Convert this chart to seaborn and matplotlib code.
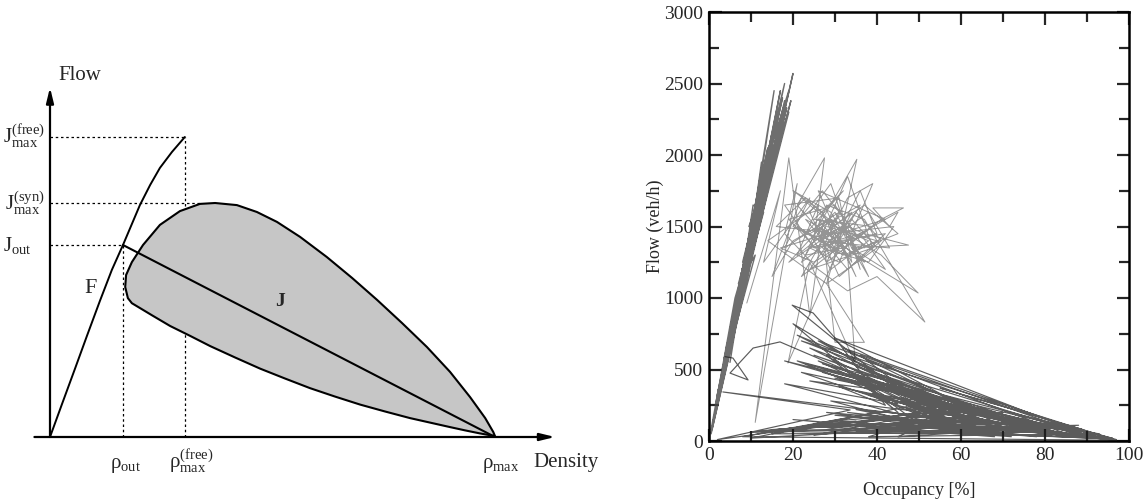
import numpy as np
import pandas as pd
import matplotlib
matplotlib.use("Agg")
import matplotlib.pyplot as plt
import seaborn as sns

sns.set_style("white")
plt.rcParams['font.family'] = ['Liberation Serif', 'DejaVu Serif']
plt.rcParams['mathtext.fontset'] = 'custom'
plt.rcParams['mathtext.rm'] = 'Liberation Serif'
plt.rcParams['mathtext.it'] = 'Liberation Serif:italic'
plt.rcParams['mathtext.bf'] = 'Liberation Serif:bold'

# ---------------- Left panel: schematic fundamental diagram ----------------
# density units: rho_max = 100 ; flow units: J_max(free) = 100
rho_out, rho_free, rho_max = 16.4, 30.3, 100.0
J_free, J_syn, J_out = 100.0, 78.0, 64.0

F_rho = [0, 2.7, 5.6, 8.3, 11.2, 13.9, 16.4, 18.4, 20.2, 22.5, 24.7, 27.4, 30.3]
F_flow = [0, 11, 22.7, 33.7, 45.3, 55.7, 64, 71, 77.3, 84, 89.7, 95, 100]

J_rho = [rho_out, rho_max]
J_flow = [J_out, 0]

blob_rho = [17.5, 16.9, 17.1, 18.4, 20.9, 24.7, 29.2, 33.7, 37.1, 42.0, 46.5, 51.0,
            56.2, 62.2, 67.9, 73.5, 79.1, 84.7, 89.9, 94.4, 97.8, 99.6, 100.0,
            96.6, 93.3, 89.9, 85.4, 80.9, 75.3, 69.7, 64.0, 58.4, 52.8, 47.2, 41.6,
            36.0, 31.5, 27.0, 23.0, 20.2, 18.4, 17.5]
blob_flow = [46.3, 50.0, 54.0, 58.3, 64.0, 70.7, 75.3, 77.7, 78.0, 77.3, 75.0, 71.7,
             66.7, 60.0, 53.0, 45.7, 38.0, 30.0, 21.7, 13.3, 6.3, 1.7, 0.3,
             1.2, 2.2, 3.3, 4.8, 6.3, 8.5, 10.8, 13.5, 16.3, 19.5, 22.8, 26.5,
             30.3, 33.7, 37.0, 40.5, 43.0, 44.6, 46.3]

# ---------------- Right panel: measured flow vs occupancy ----------------
free_occ = [0.5, 10, 3, 13, 6, 15, 8, 17, 4, 12, 9, 18, 11, 14, 5, 16, 7, 20, 13, 19.5,
            10, 15.5, 2, 11.5, 6.5, 14.5, 3.5, 9.5, 1, 12.5, 8.5, 16.5, 12, 17.5, 4.5,
            13.5, 7.5, 11, 1.5, 14, 5.5, 18.5, 9, 15, 2.5, 12, 0.8,
            14, 6, 16.5, 9.5, 12.5, 3, 15, 7, 17, 10, 13, 5, 18, 11, 8.5, 19, 12, 4,
            14.5, 9, 16, 6, 13.5, 2, 11, 7.5, 15, 10.5, 17.5, 3.5, 12, 8, 14, 1.5, 10,
            5, 13, 0.5,
            6.2, 16, 3, 19, 9.5, 12, 12.5, 8, 15.5, 5, 10.5, 13, 4, 17, 7, 11, 2, 14, 0.5]
free_flow = [60, 1350, 380, 1700, 800, 2000, 1050, 2250, 520, 1580, 1250, 2380, 1400,
             1900, 700, 2100, 900, 2570, 1650, 2380, 1300, 1950, 280, 1500, 830, 1850,
             450, 1200, 140, 1620, 1150, 2200, 1550, 2300, 600, 1800, 950, 1450, 200,
             1820, 760, 2330, 1180, 1960, 330, 1530, 90,
             2050, 900, 2300, 1380, 1750, 450, 2150, 1000, 2450, 1400, 1900, 720, 2500,
             1650, 1200, 2450, 1800, 620, 2000, 1350, 2250, 850, 1850, 320, 1550, 1150,
             2050, 1450, 2400, 560, 1650, 1250, 1950, 250, 1500, 780, 1780, 80,
             1000, 2000, 480, 2300, 1500, 1500, 1950, 1000, 2450, 550, 1650, 1600, 640,
             2150, 1100, 1300, 330, 1750, 50]

syn_occ = [9, 17, 13, 24, 18, 31, 22, 35, 27, 20, 33, 26, 38, 29, 24, 36, 30, 21, 27.5,
           25, 32, 28, 40, 34, 19, 30, 37, 26, 35.2, 31, 42, 33, 23, 29, 44, 38, 27, 33,
           39, 31, 24, 36, 42, 34, 47.5, 37, 29, 20, 15, 22, 30, 41, 49.8, 35, 28, 17,
           25, 33, 45, 43, 39, 46.3, 41, 32, 23, 28, 37, 51.4, 40, 33, 26, 18, 21, 11,
           19, 24, 27, 30, 37, 28,
           14, 26, 21, 34, 28, 39, 25, 32, 23, 37, 30, 19, 27, 35, 41, 31, 24, 29, 36,
           33, 26, 43, 38, 22, 28, 34, 31, 18, 25, 40, 36, 29, 21, 32, 45, 37, 27, 33,
           39, 24, 30, 35, 26, 42, 31, 16, 23, 34, 38, 29, 20, 27, 31, 18.8, 24, 34.8,
           33, 40, 28]
syn_flow = [965, 1750, 1250, 1700, 1350, 1600, 1150, 1450, 1750, 1500, 1300, 1550, 1400,
            1200, 1450, 1650, 1350, 1650, 1980, 1400, 1500, 1100, 1350, 1550, 1250, 1600,
            1250, 1500, 1970, 1400, 1450, 1200, 1550, 1450, 1500, 1250, 1350, 1700, 1800,
            1250, 1350, 1450, 1200, 1350, 1370, 1450, 1550, 1400, 1150, 1700, 1500, 1300,
            1035, 1300, 1450, 1350, 1250, 1400, 1600, 1500, 1630, 1630, 1550, 1350, 1300,
            1650, 1550, 832, 1150, 1050, 1200, 1450, 1800, 130, 1980, 880, 1500, 690, 690,
            1100,
            1400, 1650, 1300, 1600, 1250, 1500, 1550, 1750, 1450, 1350, 1650, 1550, 1300,
            1600, 1400, 1150, 1600, 1800, 1200, 1500, 1400, 1350, 1600, 1250, 1550, 1250,
            1700, 1650, 1350, 1450, 1750, 1350, 1500, 1300, 1450, 1650, 1450, 1850, 1350,
            1200, 1450, 1150, 1750, 1550, 1450, 1500, 1700, 1400, 1150, 1600, 1750, 1600,
            1350, 545, 1250, 545, 1300, 1400, 1500]

jam_occ = [3.8, 5.7, 9.3, 5.0, 10.5, 16.9, 60, 21, 77, 24, 55, 20, 45, 28, 90, 30, 70,
           26, 62, 35, 96, 22, 52, 19.8, 24.8, 30, 42, 31, 66, 38, 80, 27, 97, 55, 89, 40,
           58, 18, 45, 34, 75, 44, 63, 29, 50, 37, 85, 43, 68, 33, 57, 47, 92, 3.3, 33.6,
           2, 35, 10, 60, 30, 75, 15, 50, 28, 88, 40, 70, 25, 95, 45, 20, 65, 35, 80, 50,
           12, 55, 38, 93, 60, 30, 72, 42, 97,
           22, 78, 25, 65, 32, 94, 18, 57, 27, 83, 35, 70, 24, 48, 36, 91, 21, 60, 41, 73,
           30, 86, 26, 64, 39, 55, 23, 78, 46, 97,
           8, 40, 20, 65, 35, 85, 48, 25, 70, 42, 92, 55, 15, 62, 38, 78, 30, 58, 45, 88,
           52, 10, 47, 82, 36, 68, 28, 96]
jam_flow = [590, 580, 427, 475, 650, 693, 150, 740, 60, 650, 200, 820, 200, 600, 40, 720,
            100, 560, 60, 450, 20, 480, 180, 950, 895, 720, 250, 380, 120, 320, 50, 540,
            10, 370, 80, 300, 90, 400, 260, 460, 100, 340, 160, 280, 120, 400, 30, 290,
            60, 200, 120, 230, 20, 343, 217, 10, 140, 60, 110, 180, 60, 50, 200, 80, 30,
            160, 120, 100, 15, 80, 150, 40, 220, 100, 50, 70, 180, 30, 50, 200, 120, 30,
            160, 5,
            700, 70, 600, 180, 650, 15, 560, 230, 480, 60, 520, 140, 420, 330, 600, 25,
            560, 100, 380, 150, 440, 40, 700, 90, 330, 260, 540, 120, 290, 5,
            30, 200, 90, 150, 60, 90, 170, 40, 200, 110, 40, 140, 80, 60, 180, 30, 140,
            210, 30, 110, 90, 20, 240, 70, 100, 30, 200, 20]

# ---------------- figure ----------------
W, H = 1146, 503
fig = plt.figure(figsize=(W / 100, H / 100), dpi=100)

def px_axes(x0, y0, x1, y1):
    # x0,y0 top-left pixel, x1,y1 bottom-right pixel
    return fig.add_axes([x0 / W, (H - y1) / H, (x1 - x0) / W, (y1 - y0) / H])

# left axes: pixel (30..575, 60..470) ; data x=(px-50)/4.45, y=(437-py)/3
ax1 = px_axes(30, 60, 575, 470)
ax1.set_xlim((30 - 50) / 4.45, (575 - 50) / 4.45)
ax1.set_ylim((437 - 470) / 3, (437 - 60) / 3)
ax1.axis('off')

ax1.fill(blob_rho, blob_flow, facecolor='#c6c6c6', edgecolor='black', lw=1.5,
         joinstyle='round', zorder=2)
sns.lineplot(x=F_rho, y=F_flow, sort=False, estimator=None, color='black', lw=1.4, ax=ax1, zorder=3)
sns.lineplot(x=J_rho, y=J_flow, sort=False, estimator=None, color='black', lw=1.5, ax=ax1, zorder=3)

dot = dict(color='black', lw=0.9, ls=(0, (2, 2.2)), zorder=1)
ax1.plot([0, rho_free], [J_free, J_free], **dot)
ax1.plot([rho_free, rho_free], [0, J_free], **dot)
ax1.plot([0, 34], [J_syn, J_syn], **dot)
ax1.plot([0, rho_out], [J_out, J_out], **dot)
ax1.plot([rho_out, rho_out], [0, J_out], **dot)

arrow = dict(arrowstyle='-|>,head_length=0.9,head_width=0.22', lw=1.6, color='black',
             shrinkA=0, shrinkB=0)
ax1.annotate('', xy=(113.5, 0), xytext=(-3.5, 0), arrowprops=arrow, zorder=4)
ax1.annotate('', xy=(0, 116.5), xytext=(0, 0), arrowprops=arrow, zorder=4)

ax1.text(6.6, 120.5, 'Flow', fontsize=15, ha='center', va='center')
ax1.text(116.0, -8.5, 'Density', fontsize=15, ha='center', va='center')
ax1.text(9.2, 49.5, 'F', fontsize=16, ha='center', va='center')
ax1.text(51.7, 45, 'J', fontsize=14, ha='center', va='center', fontweight='bold')

ax1.text(-1.2, J_free, r'$\mathrm{J}_{\mathrm{max}}^{\mathrm{(free)}}$', fontsize=15, ha='right', va='center')
ax1.text(-1.2, J_syn, r'$\mathrm{J}_{\mathrm{max}}^{\mathrm{(syn)}}$', fontsize=15, ha='right', va='center')
ax1.text(-4.0, J_out, r'$\mathrm{J}_{\mathrm{out}}$', fontsize=15, ha='right', va='center')
ax1.text(rho_out + 0.5, -9.5, r'$\mathrm{\rho}_{\mathrm{out}}$', fontsize=15, ha='center', va='center')
ax1.text(rho_free + 1.4, -8.2, r'$\mathrm{\rho}_{\mathrm{max}}^{\mathrm{(free)}}$', fontsize=15, ha='center', va='center')
ax1.text(rho_max + 1.4, -9.5, r'$\mathrm{\rho}_{\mathrm{max}}$', fontsize=15, ha='center', va='center')

# right axes: pixel box 709..1129 x 12..441
ax2 = px_axes(709, 12, 1129, 441)
df_free = pd.DataFrame({'occ': free_occ, 'flow': free_flow})
df_syn = pd.DataFrame({'occ': syn_occ, 'flow': syn_flow})
df_jam = pd.DataFrame({'occ': jam_occ, 'flow': jam_flow})

sns.lineplot(data=df_syn, x='occ', y='flow', sort=False, estimator=None, color='#8a8a8a',
             lw=0.7, alpha=0.9, ax=ax2)
sns.lineplot(data=df_free, x='occ', y='flow', sort=False, estimator=None, color='#4a4a4a',
             lw=1.0, alpha=0.8, ax=ax2)
sns.lineplot(data=df_jam, x='occ', y='flow', sort=False, estimator=None, color='#1c1c1c',
             lw=0.85, alpha=0.72, ax=ax2)

ax2.set_xlim(0, 100)
ax2.set_ylim(0, 3000)
ax2.set_xticks([0, 20, 40, 60, 80, 100])
ax2.set_xticks(np.arange(10, 100, 20), minor=True)
ax2.set_yticks(np.arange(0, 3001, 500))
ax2.set_yticks(np.arange(250, 3000, 500), minor=True)
ax2.tick_params(which='both', direction='in', top=True, right=True, bottom=True, left=True,
                width=1.6, labelsize=14, pad=4)
ax2.tick_params(which='major', length=9)
ax2.tick_params(which='minor', length=7)
for s in ax2.spines.values():
    s.set_linewidth(1.8)
    s.set_color('black')
ax2.set_xlabel('Occupancy [%]', fontsize=13)
ax2.set_ylabel('Flow (veh/h)', fontsize=13)
ax2.xaxis.set_label_coords(0.5, -0.095)
ax2.yaxis.set_label_coords(-0.108, 0.5)

fig.savefig('out.png', dpi=100)
